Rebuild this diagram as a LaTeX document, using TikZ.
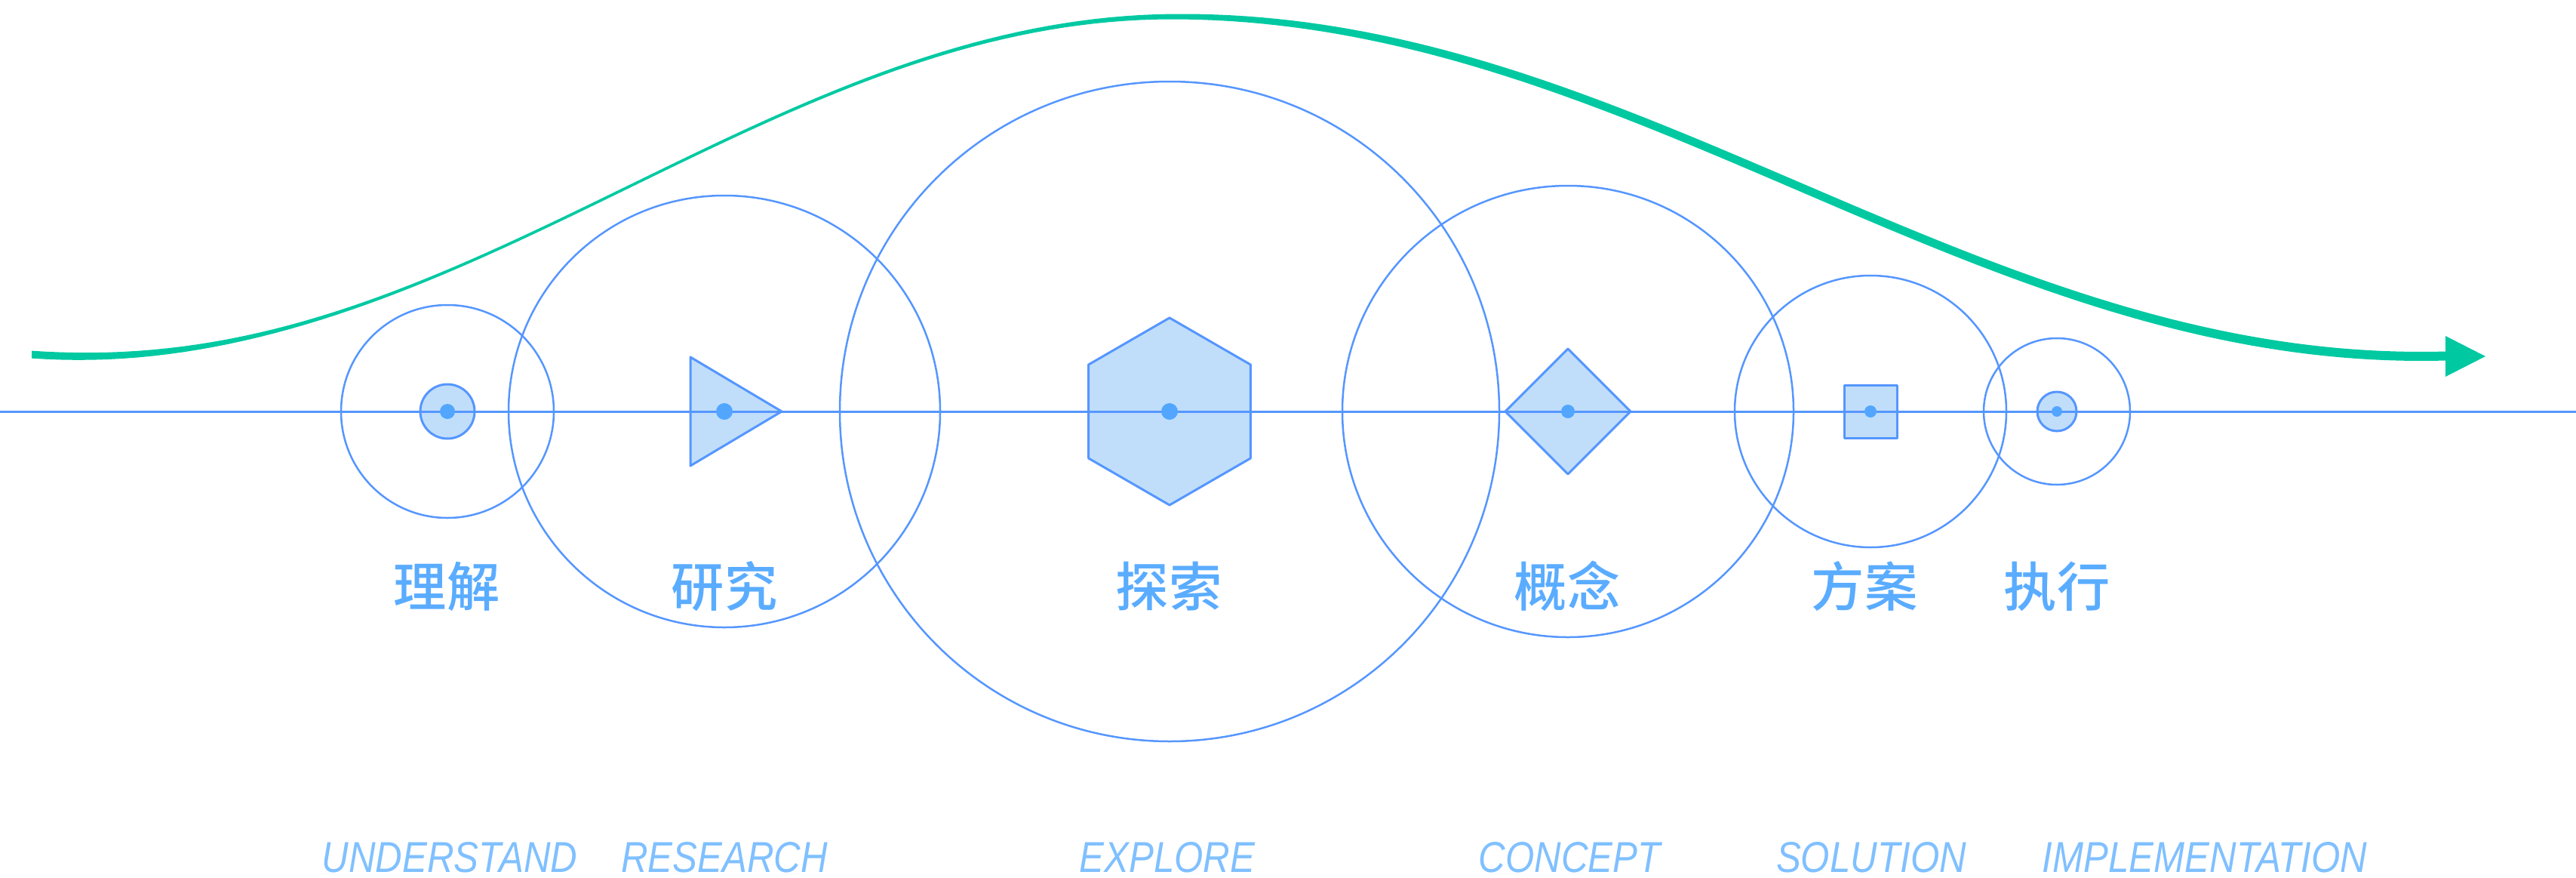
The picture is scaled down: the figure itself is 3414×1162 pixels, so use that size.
\documentclass[tikz,border=0pt]{standalone}
\usepackage{fontspec}
\newfontfamily\cjkfont[BoldFont={Noto Sans CJK SC Medium}]{Noto Sans CJK SC}
\newfontfamily\enfont[FakeStretch=0.86]{Liberation Sans}
\definecolor{trait}{HTML}{5596FF}
\definecolor{remplissage}{HTML}{C0DEFA}
\definecolor{point}{HTML}{52A6FF}
\definecolor{texte}{HTML}{5AACFF}
\definecolor{texteclair}{HTML}{80C0FF}
\definecolor{vert}{HTML}{00C9A2}

\begin{document}
\begin{tikzpicture}[x=0.1mm, y=-0.1mm,
    cercle/.style={draw=trait, line width=0.25mm},
    forme/.style={draw=trait, fill=remplissage, line width=0.3mm, line join=round},
    titre/.style={anchor=base, text=texte, inner sep=0pt,
        font=\cjkfont\bfseries\fontsize{20pt}{24pt}\selectfont},
    soustitre/.style={anchor=base, text=texteclair, inner sep=0pt,
        font=\enfont\itshape\fontsize{16.3pt}{20pt}\selectfont},
    declare function={
        cy(\x)=(\x<1559)*(472-225*(1+cos((\x-1559)/1450*180)))
              +(\x>=1559)*(472-225*(1+cos((\x-1559)/1650*180)));
        cw(\x)=4+6*exp(-min(((\x-42)/280)*((\x-42)/280),9))
              +8/(1+exp(-(\x-1650)/180));}]
    \useasboundingbox (0,0) rectangle (3414,1162);

    % Définition des centres
    \coordinate (U) at (593,545);
    \coordinate (R) at (960,545);
    \coordinate (E) at (1550,545);
    \coordinate (C) at (2078,545);
    \coordinate (S) at (2479,545);
    \coordinate (I) at (2726,545);
    \coordinate (gauche) at (0,545);
    \coordinate (droite) at (3414,545);

    % Formes pleines
    \draw[forme] (U) circle (36);
    \draw[forme] (R) +(-45,-72) -- +(-45,72) -- +(76,0) -- cycle;
    \draw[forme] (E) +(30:124) -- +(90:124) -- +(150:124) -- +(210:124)
        -- +(270:124) -- +(330:124) -- cycle;
    \draw[forme] (C) +(83,0) -- +(0,83) -- +(-83,0) -- +(0,-83) -- cycle;
    \draw[forme] (S) +(-35,-35) rectangle +(35,35);
    \draw[forme] (I) circle (26);

    % Axe et cercles
    \draw[trait, line width=0.3mm] (gauche) -- (droite);
    \foreach \p/\r in {U/141,R/286,E/437,C/299,S/180,I/97} {
        \draw[cercle] (\p) circle (\r);
    }

    % Points centraux
    \foreach \p/\r in {U/10,R/11,E/11,C/9,S/8,I/7} {
        \fill[point] (\p) circle (\r);
    }

    % Courbe verte
    \fill[vert] plot[domain=42:3241, samples=160] (\x,{cy(\x)-cw(\x)/2})
        -- plot[domain=3241:42, samples=160] (\x,{cy(\x)+cw(\x)/2}) -- cycle;
    \fill[vert] (3241,445) -- (3294,472) -- (3241,499) -- cycle;

    % Étiquettes
    \node[titre] (tU) at (592,803) {理解};
    \node[titre] (tR) at (960,803) {研究};
    \node[titre] (tE) at (1549,803) {探索};
    \node[titre] (tC) at (2077,803) {概念};
    \node[titre] (tS) at (2471,803) {方案};
    \node[titre] (tI) at (2726,803) {执行};

    \node[soustitre] (sU) at (596,1155) {UNDERSTAND};
    \node[soustitre] (sR) at (960,1155) {RESEARCH};
    \node[soustitre] (sE) at (1547,1155) {EXPLORE};
    \node[soustitre] (sC) at (2080,1155) {CONCEPT};
    \node[soustitre] (sS) at (2480,1155) {SOLUTION};
    \node[soustitre] (sI) at (2922,1155) {IMPLEMENTATION};

\end{tikzpicture}
\end{document}
